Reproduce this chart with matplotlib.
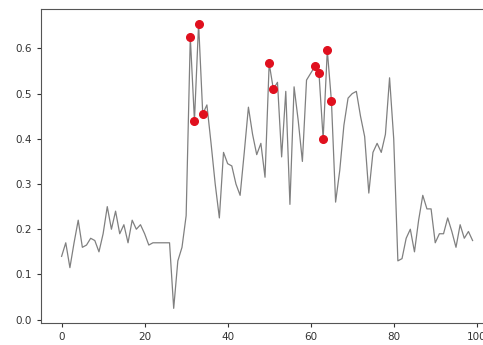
import numpy as np
import matplotlib
matplotlib.use('Agg')
import matplotlib.pyplot as plt

# series values (index 0..99)
values = [
    0.14, 0.17, 0.115, 0.17, 0.22, 0.16, 0.165, 0.18, 0.175, 0.15,
    0.19, 0.25, 0.20, 0.24, 0.19, 0.21, 0.17, 0.22, 0.20, 0.21,
    0.19, 0.165, 0.17, 0.17, 0.17, 0.17, 0.17, 0.025, 0.13, 0.16,
    0.23, 0.625, 0.44, 0.655, 0.455, 0.475, 0.39, 0.30, 0.225, 0.37,
    0.345, 0.34, 0.30, 0.275, 0.37, 0.47, 0.41, 0.365, 0.39, 0.315,
    0.567, 0.51, 0.525, 0.36, 0.505, 0.255, 0.515, 0.44, 0.35, 0.53,
    0.545, 0.56, 0.545, 0.40, 0.596, 0.483, 0.26, 0.33, 0.43, 0.49,
    0.50, 0.505, 0.45, 0.405, 0.28, 0.37, 0.39, 0.37, 0.41, 0.535,
    0.40, 0.13, 0.135, 0.18, 0.20, 0.15, 0.22, 0.275, 0.245, 0.245,
    0.17, 0.19, 0.19, 0.225, 0.195, 0.16, 0.21, 0.18, 0.195, 0.175,
]
# highlighted points (red markers)
peak_idx = [31, 32, 33, 34, 50, 51, 61, 62, 63, 64, 65]

x = np.arange(len(values))
y = np.array(values)

fig = plt.figure(figsize=(4.83, 3.45), dpi=100)
# axes run past the right edge, like the cropped original
ax = fig.add_axes([0.085, 0.065, 0.936, 0.908])

ax.plot(x, y, color='gray', linewidth=0.9)
ax.plot(x[peak_idx], y[peak_idx], 'o', color='#e0101e', markersize=5.5, linestyle='none')

ax.set_xlim(-4.95, 103.95)
ax.set_ylim(-0.0065, 0.6865)
ax.set_xticks([0, 20, 40, 60, 80, 100])
ax.set_yticks([0.0, 0.1, 0.2, 0.3, 0.4, 0.5, 0.6])
ax.tick_params(labelsize=7.5, colors='#333333', length=3)
for s in ax.spines.values():
    s.set_color('#555555')

fig.savefig('out.png', dpi=100)
